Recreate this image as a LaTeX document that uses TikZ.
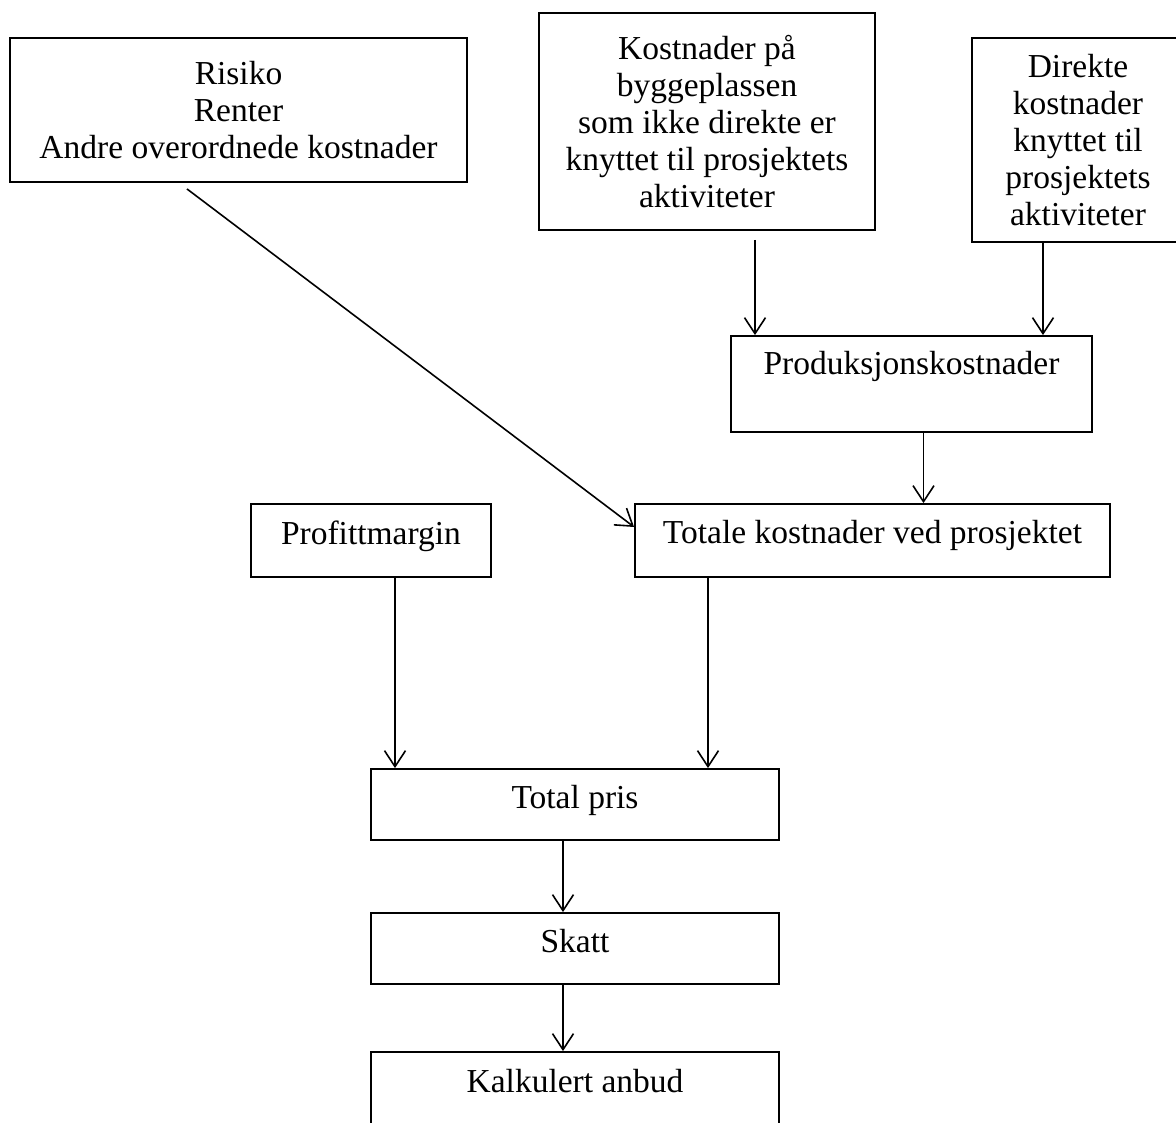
\documentclass[tikz,border=0pt]{standalone}
\usepackage{fontspec}
\setmainfont{Liberation Serif}
\usetikzlibrary{arrows.meta}
\begin{document}
\begin{tikzpicture}[x=1pt,y=-1pt,
  box/.style={draw=black, line width=1.8pt, rectangle, inner sep=0pt, align=center,
    font=\fontsize{33.5}{37}\selectfont},
  onebox/.style={box, anchor=base, text height=39pt},
  arr/.style={draw=black, line width=1.6pt, -{Straight Barb[length=16pt,width=21pt]}}]
\useasboundingbox (0,0) rectangle (1176,1123);
\node[box, minimum width=457pt, minimum height=144pt] (risk) at (238.5,110)
  {Risiko\\Renter\\Andre overordnede kostnader};
\node[box, minimum width=336pt, minimum height=217pt] (kost) at (707,121.5)
  {Kostnader på\\byggeplassen\\som ikke direkte er\\knyttet til prosjektets\\aktiviteter};
\node[box, minimum width=212pt, minimum height=204pt] (dir) at (1078,140)
  {Direkte\\kostnader\\knyttet til\\prosjektets\\aktiviteter};
\node[onebox, minimum width=361pt, text depth=57pt] (prod) at (911.5,375) {Produksjonskostnader};
\node[onebox, minimum width=240pt, text height=40pt, text depth=33pt] (prof) at (371,544) {Profittmargin};
\node[onebox, minimum width=475pt, text depth=34pt] (tot) at (872.5,543) {Totale kostnader ved prosjektet};
\node[onebox, minimum width=408pt, text depth=32pt] (pris) at (575,808) {Total pris};
\node[onebox, minimum width=408pt, text depth=32pt] (skatt) at (575,952) {Skatt};
\node[onebox, minimum width=408pt, text height=40pt, text depth=40pt] (kalk) at (575,1092) {Kalkulert anbud};

\draw[arr, shorten <=9pt] ([xshift=48pt]kost.south) -- ([xshift=48pt]kost.south |- prod.north);
\draw[arr] ([xshift=-35pt]dir.south) -- ([xshift=-35pt]dir.south |- prod.north);
\draw[arr] ([xshift=12pt]prod.south) -- ([xshift=12pt]prod.south |- tot.north);
\draw[arr, shorten <=10pt] ([xshift=-59.5pt]risk.south) -- ([yshift=13.5pt]tot.west);
\draw[arr] ([xshift=24pt]prof.south) -- ([xshift=24pt]prof.south |- pris.north);
\draw[arr] ([xshift=-164.5pt]tot.south) -- ([xshift=-164.5pt]tot.south |- pris.north);
\draw[arr] ([xshift=-12pt]pris.south) -- ([xshift=-12pt]pris.south |- skatt.north);
\draw[arr] ([xshift=-12pt]skatt.south) -- ([xshift=-12pt]skatt.south |- kalk.north);
\end{tikzpicture}
\end{document}
